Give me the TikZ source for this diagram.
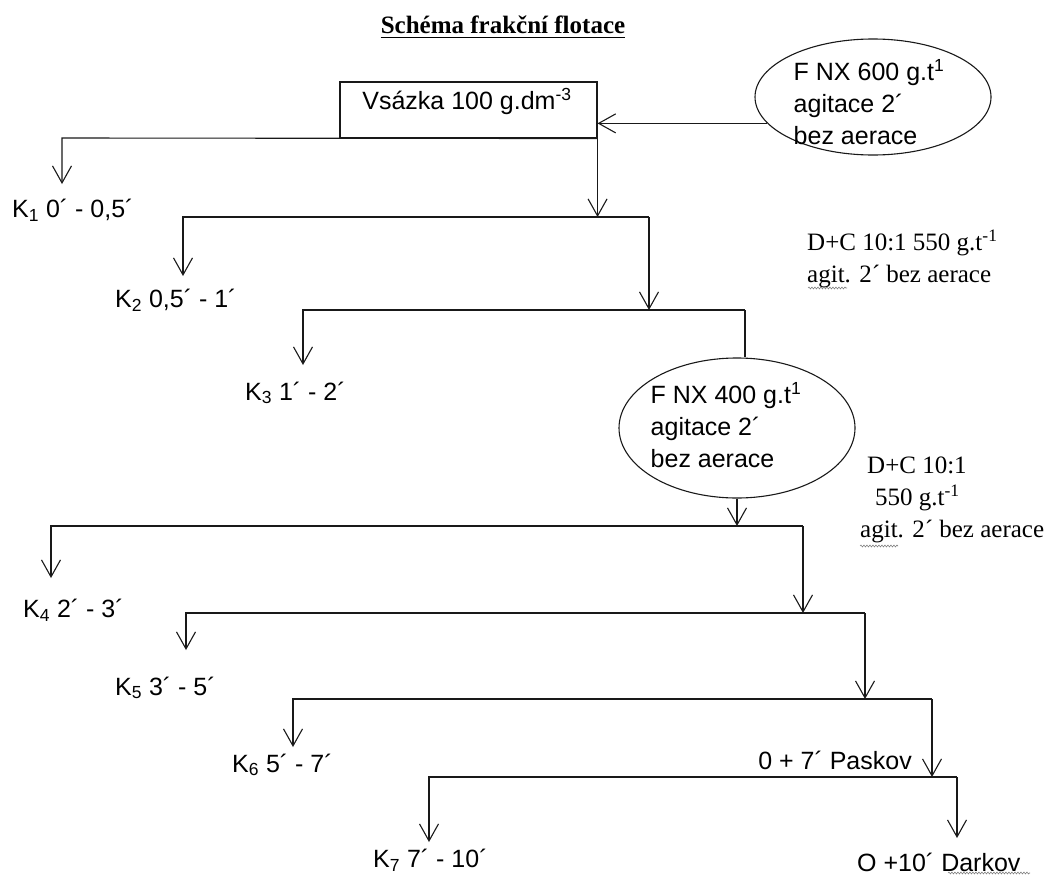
\documentclass[tikz,border=0pt]{standalone}
\usepackage{fontspec}
\setmainfont{Liberation Serif}
\newfontfamily\arialf{Liberation Sans}
\usetikzlibrary{arrows.meta,shapes.geometric,decorations.pathmorphing}
\begin{document}
\begin{tikzpicture}[x=1pt,y=-1pt,
  line/.style={line width=1.1pt, draw=black!90},
  arr/.style={line, -{Straight Barb[length=17pt,width=19pt]}},
  sans/.style={font=\arialf\fontsize{25}{32}\selectfont, inner sep=0pt},
  serif/.style={font=\fontsize{25}{32}\selectfont, inner sep=0pt},
  titlestyle/.style={font=\bfseries\fontsize{25}{30}\selectfont, inner sep=0pt},
  squig/.style={draw=gray, line width=0.6pt, decorate, decoration={snake, amplitude=0.9pt, segment length=3pt}},
  box/.style={line, rectangle, inner sep=0pt},
  oval/.style={line, ellipse, inner sep=0pt}]
\useasboundingbox (0,0) rectangle (1048,875);

% title
\node[titlestyle] (title) at (503,25) {Schéma frakční flotace};
\draw[line width=1.2pt] ([yshift=-4pt]title.base west) -- ([yshift=-4pt]title.base east);

% feed box
\node[box, minimum width=257pt, minimum height=56pt] (feed) at (468.5,110) {};
\node[sans] (feedtxt) at (467,101) {Vsázka 100 g.dm\textsuperscript{-3}};

% reagent ellipse 1
\node[oval, minimum width=236pt, minimum height=116pt] (e1) at (873,97) {};
\node[sans, align=left] (e1txt) at (869,102) {F NX 600 g.t\textsuperscript{1}\\agitace 2´\\bez aerace};
\draw[arr] (e1.194) -- (e1.194 -| feed.east);

% reagent notes
\node[serif, align=left, anchor=west] (n1) at (807,259) {D+C 10:1 550 g.t\textsuperscript{-1}\\agit. 2´ bez aerace};
\node[serif, align=left, anchor=west] (n2) at (860,500) {\hspace*{7pt}D+C 10:1\\\hspace*{15pt}550 g.t\textsuperscript{-1}\\agit. 2´ bez aerace};

% junction coordinates
\coordinate (L1) at (62,138);  \coordinate (t1) at (62,184);
\coordinate (L2) at (183,217); \coordinate (R2) at (649,217); \coordinate (t2) at (183,276);
\coordinate (L3) at (303,310); \coordinate (R3) at (745,310); \coordinate (t3) at (303,365);
\coordinate (L4) at (51,526);  \coordinate (R4) at (803,526); \coordinate (t4) at (51,578);
\coordinate (L5) at (186,613); \coordinate (R5) at (865,613); \coordinate (t5) at (186,650);
\coordinate (L6) at (293,699); \coordinate (R6) at (932,699); \coordinate (t6) at (293,747);
\coordinate (L7) at (429,777); \coordinate (R7) at (957,777); \coordinate (t7) at (429,842);
\coordinate (t8) at (957,838);

% reagent ellipse 2
\node[oval, minimum width=236pt, minimum height=140pt] (e2) at (737,428) {};
\node[sans, align=left] (e2txt) at (726,425) {F NX 400 g.t\textsuperscript{1}\\agitace 2´\\bez aerace};

% labels
\node[sans, anchor=west] (k1) at (12,210) {K\textsubscript{1} 0´ - 0,5´};
\node[sans, anchor=west] (k2) at (115,300) {K\textsubscript{2} 0,5´ - 1´};
\node[sans, anchor=west] (k3) at (245,393) {K\textsubscript{3} 1´ - 2´};
\node[sans, anchor=west] (k4) at (23,610) {K\textsubscript{4} 2´ - 3´};
\node[sans, anchor=west] (k5) at (115,688) {K\textsubscript{5} 3´ - 5´};
\node[sans, anchor=west] (k6) at (232,765) {K\textsubscript{6} 5´ - 7´};
\node[sans, anchor=west] (k7) at (373,860) {K\textsubscript{7} 7´ - 10´};
\node[sans, anchor=east] (pask) at (912,760) {0 + 7´ Paskov};
\node[sans, anchor=west] (dark) at (857,862) {O +10´ Darkov};

% connectors
\draw[arr] (feed.south east) -- (L1) -- (t1);
\draw[arr] (feed.south east) -- (feed.south east |- L2);
\draw[arr] (R2) -- (L2) -- (t2);
\draw[arr] (R2) -- (R2 |- L3);
\draw[arr] (R3) -- (L3) -- (t3);
\draw[line] (R3) -- (R3 |- e2.north);
\draw[arr] (e2.south) -- (e2.south |- L4);
\draw[arr] (R4) -- (L4) -- (t4);
\draw[arr] (R4) -- (R4 |- L5);
\draw[arr] (R5) -- (L5) -- (t5);
\draw[arr] (R5) -- (R5 |- L6);
\draw[arr] (R6) -- (L6) -- (t6);
\draw[arr] (R6) -- (R6 |- L7);
\draw[arr] (R7) -- (L7) -- (t7);
\draw[arr] (R7) -- (t8);

% spell-check squiggles
\draw[squig] (808,288) -- (847,288);
\draw[squig] (860,546) -- (898,546);
\draw[squig] (948,873) -- (1030,873);
\end{tikzpicture}
\end{document}
